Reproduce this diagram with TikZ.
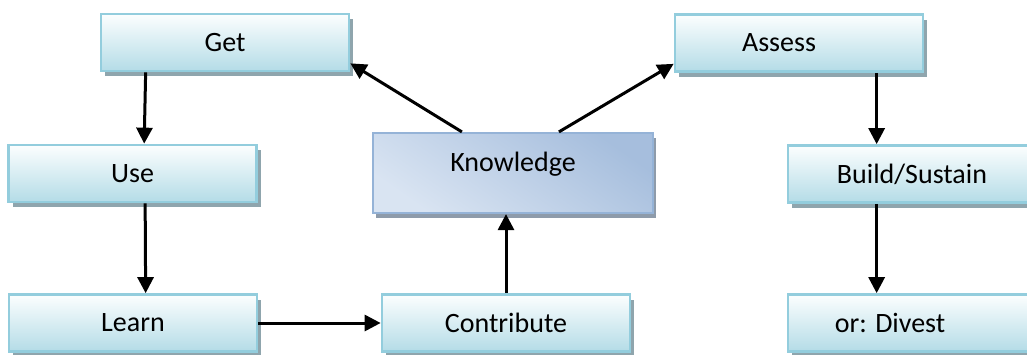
\documentclass[tikz,border=0pt]{standalone}
\usepackage{fontspec}
\setmainfont{Carlito}
\usetikzlibrary{arrows.meta,calc,shadows}

\definecolor{cyanedge}{HTML}{93CDDD}
\definecolor{cyantop}{HTML}{FCFEFE}
\definecolor{cyanbot}{HTML}{B4DCE7}
\definecolor{boxshade}{HTML}{8FA5AD}
\definecolor{knowedge}{HTML}{95B3D7}
\definecolor{knowdark}{HTML}{A6BEDD}
\definecolor{knowlight}{HTML}{D9E4F2}
\definecolor{knowshade}{HTML}{8E9BAA}

\tikzset{
  x=1pt, y=-1pt,
  stage/.style={rectangle, draw=cyanedge, line width=2.7pt,
    top color=cyantop, bottom color=cyanbot,
    minimum width=248pt, minimum height=57pt, inner sep=0pt,
    font=\fontsize{28}{32}\selectfont,
    drop shadow={shadow xshift=4pt, shadow yshift=-5pt, opacity=1, fill=boxshade}},
  core/.style={rectangle, draw=knowedge, line width=2.2pt,
    top color=knowdark, bottom color=knowlight, shading angle=-35,
    minimum width=280pt, minimum height=80pt, inner sep=0pt,
    font=\fontsize{28}{32}\selectfont,
    drop shadow={shadow xshift=3pt, shadow yshift=-5pt, opacity=1, fill=knowshade}},
  flow/.style={line width=3pt, draw=black,
    -{Triangle[length=16pt,width=16pt]}}
}

\begin{document}
\begin{tikzpicture}
  \clip (0,0) rectangle (1027,354);
  \fill[white] (0,0) rectangle (1027,354);

  % left column
  \node[stage] (get)     at (225,42.5)  {Get};
  \node[stage] (use)     at (132.5,173.5) {Use};
  \node[stage] (learn)   at (133,323)   {Learn};

  % centre
  \node[stage] (contrib) at (506,323)   {Contribute};
  \node[core]  (know)    at (513,173)   {\raisebox{9pt}[\height][\depth]{Knowledge}};

  % right column
  \node[stage] (assess)  at (799,43)    {\hspace*{-40pt}Assess};
  \node[stage] (build)   at (912,174)   {Build/Sustain};
  \node[stage] (divest)  at (912,323)   {\hspace*{-44pt}or: Divest};

  % connectors
  \draw[flow] ($(get.south west)+(46,0)$) -- ($(use.north west)+(137,0)$);
  \draw[flow] ($(use.south west)+(138,0)$) -- ($(learn.north west)+(138,0)$);
  \draw[flow] (learn.east) -- (contrib.west);
  \draw[flow] (contrib.north) -- (contrib.north |- know.south);
  \draw[flow] ($(know.north west)+(90,0)$) -- ($(get.south east)+(0,-9)$);
  \draw[flow] ($(know.north west)+(187,0)$) -- ($(assess.south west)+(0,-9)$);
  \draw[flow] ($(assess.south west)+(203,0)$) -- ($(build.north west)+(90,0)$);
  \draw[flow] ($(build.south west)+(90,0)$) -- ($(divest.north west)+(90,0)$);
\end{tikzpicture}
\end{document}
